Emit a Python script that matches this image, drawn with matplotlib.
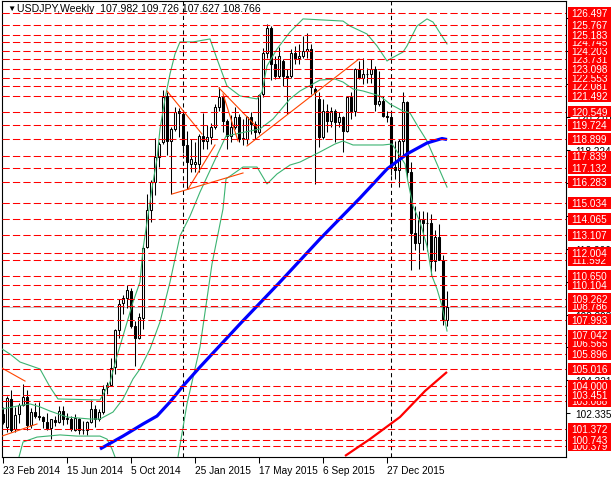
import matplotlib.pyplot as plt
import numpy as np
from matplotlib.patches import Rectangle
from matplotlib.transforms import blended_transform_factory

# USDJPY semanal, una vela por semana desde el 23 Feb 2014
opens = [102.28, 101.50, 103.20, 101.40, 102.30, 102.85, 103.30, 101.60, 102.40, 102.15,
         102.10, 101.80, 101.45, 101.95, 101.80, 102.50, 102.00, 102.00, 101.35, 102.00,
         101.30, 101.30, 101.80, 102.60, 102.00, 102.40, 103.90, 104.05, 105.10, 107.35,
         109.00, 109.30, 109.70, 107.60, 106.90, 108.10, 112.40, 114.60, 116.30, 117.80,
         118.70, 121.50, 118.80, 119.50, 120.60, 120.40, 118.50, 117.40, 117.40, 117.40,
         119.10, 118.80, 119.00, 119.60, 120.80, 121.40, 120.00, 119.10, 119.60, 120.20,
         118.90, 118.90, 120.20, 119.80, 119.30, 121.60, 124.10, 125.60, 123.40, 122.70,
         123.60, 122.70, 122.70, 124.10, 123.80, 123.90, 124.20, 124.30, 121.90, 121.30,
         119.00, 120.60, 120.00, 120.60, 119.90, 120.20, 119.40, 121.40, 120.60, 123.10,
         122.60, 122.80, 122.80, 123.10, 121.00, 121.20, 120.30, 120.20, 117.20, 117.00,
         118.80, 121.10, 116.90, 113.20, 112.60, 114.00, 113.80, 113.80, 111.50, 113.00,
         111.60, 107.98]
highs = [102.71, 103.37, 103.77, 102.71, 102.95, 104.13, 103.75, 102.63, 102.96, 103.02,
         102.15, 102.35, 102.00, 102.20, 102.80, 102.75, 102.38, 102.15, 102.28, 102.08,
         101.85, 101.90, 103.15, 102.85, 102.60, 104.05, 104.20, 105.70, 107.40, 109.24,
         109.45, 110.09, 109.90, 107.90, 108.39, 112.47, 115.59, 116.40, 118.98, 118.70,
         121.85, 121.70, 119.60, 120.80, 120.75, 120.65, 119.40, 118.90, 118.70, 119.20,
         120.47, 119.73, 119.88, 121.00, 122.03, 121.50, 120.10, 120.37, 120.80, 120.40,
         120.10, 120.25, 120.50, 120.00, 121.60, 124.40, 125.86, 125.70, 123.90, 124.45,
         123.70, 123.10, 124.30, 124.50, 124.60, 125.10, 125.30, 124.60, 122.00, 121.70,
         121.30, 121.00, 120.80, 120.70, 120.50, 120.30, 121.50, 121.75, 123.20, 123.60,
         123.80, 123.20, 123.70, 123.30, 123.00, 121.50, 120.60, 120.40, 118.80, 118.90,
         121.70, 121.20, 117.50, 114.87, 114.55, 114.55, 114.48, 114.36, 113.40, 113.76,
         111.90, 109.73]
lows = [101.70, 101.20, 101.20, 101.22, 101.73, 102.75, 101.32, 101.43, 102.05, 101.92,
        101.43, 101.32, 100.81, 101.55, 101.75, 101.60, 101.70, 101.25, 101.24, 101.07,
        101.06, 101.00, 101.75, 101.50, 101.90, 102.30, 103.50, 104.00, 104.70, 106.90,
        108.30, 108.70, 107.50, 105.20, 106.80, 107.40, 112.30, 113.86, 115.50, 117.20,
        118.60, 117.90, 115.57, 119.40, 119.00, 118.06, 115.85, 116.90, 116.90, 116.90,
        118.30, 118.30, 118.60, 119.50, 120.60, 119.30, 118.30, 118.70, 119.50, 118.70,
        118.50, 118.60, 119.20, 118.88, 119.20, 121.40, 123.80, 122.45, 122.50, 122.60,
        122.10, 120.40, 122.60, 123.40, 123.40, 123.80, 123.80, 121.60, 116.15, 118.40,
        118.90, 119.30, 119.60, 118.70, 119.60, 118.10, 119.30, 120.10, 120.30, 122.50,
        122.20, 122.30, 122.30, 120.60, 120.90, 120.20, 119.90, 116.70, 116.50, 115.97,
        117.90, 116.50, 110.99, 112.20, 111.05, 112.20, 112.13, 110.70, 110.90, 111.60,
        107.67, 107.63]
closes = [101.79, 103.28, 101.33, 102.24, 102.82, 103.29, 101.61, 102.42, 102.16, 102.14,
          101.84, 101.45, 101.97, 101.78, 102.45, 102.00, 102.04, 101.37, 102.05, 101.32,
          101.33, 101.81, 102.58, 102.02, 102.40, 103.82, 104.07, 105.08, 107.34, 108.96,
          109.27, 109.76, 107.60, 106.89, 108.13, 112.30, 114.60, 116.30, 117.80, 118.60,
          121.45, 118.78, 119.50, 120.50, 120.45, 118.50, 117.50, 117.70, 117.50, 119.10,
          118.80, 119.00, 119.60, 120.80, 121.40, 120.00, 119.10, 119.60, 120.20, 118.90,
          118.90, 120.20, 119.80, 119.30, 121.55, 124.10, 125.60, 123.40, 122.70, 123.90,
          122.70, 122.60, 124.10, 123.80, 123.90, 124.20, 124.30, 122.00, 121.70, 119.00,
          120.60, 120.00, 120.60, 119.90, 120.20, 119.40, 121.40, 120.60, 123.10, 122.60,
          122.80, 122.80, 123.10, 121.00, 121.20, 120.30, 120.20, 117.20, 117.00, 118.80,
          121.10, 116.90, 113.20, 112.60, 114.00, 113.80, 113.80, 111.55, 113.00, 111.60,
          108.05, 108.77]

# etiquetas de fecha (indice de vela)
date_idx = [0, 16, 32, 48, 64, 80, 96]
date_labels = ['23 Feb 2014', '15 Jun 2014', '5 Oct 2014', '25 Jan 2015',
               '17 May 2015', '6 Sep 2015', '27 Dec 2015']
separators = [45, 97]

# medias moviles (indice, precio)
blue_idx = [24.25, 30, 35, 38.5, 41.75, 45, 49.25, 59.25, 69.25, 79.25, 89.25, 96, 101, 106, 109.75, 111]
blue_val = [100.18, 100.96, 101.69, 102.17, 103.02, 103.98, 105.13, 107.73, 110.26, 112.86,
            115.33, 117.08, 117.99, 118.65, 118.92, 118.86]
red_idx = [85.5, 91.75, 99.25, 105.5, 111]
red_val = [99.76, 100.78, 102.11, 103.68, 104.83]

# bandas de Bollinger
up_idx = [-0.25, 1.75, 4.25, 9.25, 11.75, 13.75, 24.25, 26.75, 28.5, 30, 32.5, 34.25, 35, 36.75,
          37.5, 38.5, 39.25, 40.5, 41.75, 43, 44.25, 47.5, 51.75, 53.5, 56, 59.25, 63.5, 64.75,
          66, 68.5, 71.75, 75, 85, 86.75, 91, 93.5, 96, 96.75, 100, 101, 103.5, 106, 107.5, 111]
up_val = [106.22, 105.91, 105.43, 105.01, 103.92, 103.20, 103.14, 104.22, 105.79, 107.00, 109.05,
          110.26, 112.25, 115.09, 116.30, 117.68, 119.50, 121.31, 122.82, 124.02, 124.75, 124.75,
          124.93, 123.72, 122.09, 121.49, 121.31, 121.73, 123.30, 124.32, 125.35, 126.14, 126.01,
          125.71, 125.23, 124.51, 123.60, 123.72, 124.14, 124.51, 125.71, 126.14, 125.95, 124.63]
mid_idx = [-0.25, 3.75, 6.75, 9.25, 11.75, 16, 21.75, 24.25, 27.5, 30, 32.5, 34.25, 36.75, 39.25,
           41.75, 44.25, 46.75, 49.25, 55.75, 64.25, 67.5, 71.75, 74.25, 79.25, 83, 85, 87.5, 90,
           94.25, 96.75, 100, 101.75, 103.5, 106, 108.5, 111]
mid_val = [102.59, 102.78, 102.90, 102.72, 102.47, 102.11, 101.99, 101.99, 102.41, 103.20, 104.41,
           105.01, 106.22, 107.85, 110.26, 113.04, 114.24, 115.69, 119.07, 119.50, 120.10, 121.31,
           121.79, 122.45, 122.51, 122.33, 121.91, 121.79, 121.49, 121.00, 120.58, 120.46, 119.74,
           118.77, 117.38, 115.99]
low1_idx = [4, 5, 8.5, 14.25, 18.5, 24.25, 26, 27.25, 28]
low1_val = [99.70, 100.60, 100.90, 101.03, 100.96, 100.96, 100.78, 100.18, 99.70]
low2_idx = [43.75, 46, 49.25, 52.25, 55, 55.75, 60, 63.5, 66, 68.5, 71.75, 74.25, 79.25, 83, 85,
            87.5, 95, 97.25, 99.25, 100.5, 101.25, 102.5, 104.25, 106, 107.25, 108.5, 109.75, 111]
low2_val = [99.70, 102.90, 106.34, 111.35, 114.67, 116.48, 117.20, 117.20, 116.18, 116.78, 117.32,
            117.50, 118.11, 118.59, 118.77, 118.53, 118.53, 118.59, 117.87, 117.38, 116.30, 114.85,
            113.88, 112.43, 110.62, 109.84, 108.81, 107.30]

# lineas de tendencia (inicio, fin)
trend_lines = [((-0.75, 105.13), (5.5, 104.28)),
               ((-0.25, 100.96), (8.5, 101.69)),
               ((41, 121.79), (49.75, 119.19)),
               ((42.25, 115.57), (60, 116.84)),
               ((46.25, 115.87), (53, 118.53)),
               ((54, 121.97), (63.5, 119.61)),
               ((55, 121.61), (58.75, 118.77)),
               ((61, 118.47), (89, 123.72))]

# niveles horizontales con etiqueta roja
levels = [100.379, 100.743, 101.372, 103.088, 103.451, 104.000, 105.016, 105.896, 106.565,
          107.042, 107.993, 108.786, 109.262, 110.104, 110.650, 111.592, 112.004, 113.107,
          114.065, 115.034, 116.283, 117.132, 117.839, 118.899, 119.724, 120.549, 121.492,
          122.081, 122.553, 123.098, 123.731, 124.203, 124.745, 125.183, 125.767, 126.497]
price_ticks = [102.335, 104.321, 106.307, 108.293, 110.280, 112.266, 114.252, 116.238,
               118.224, 120.210, 122.196, 124.182, 126.168]
bid = 108.766

W, H = 611, 481
font = 'Liberation Sans'
fig = plt.figure(figsize=(W / 100, H / 100), dpi=100)
ax = fig.add_axes([2 / W, 1 - 458 / H, 564 / W, 456 / H])
ax.set_xlim(-0.25, 140.75)
ax.set_ylim(99.697, 127.221)

o = np.array(opens); h = np.array(highs); l = np.array(lows); c = np.array(closes)
idx = np.arange(len(c))
up = c >= o

ax.axhline(bid, color='#c0c0c0', lw=0.75, zorder=1)
for s in separators:
    ax.axvline(s, color='black', lw=0.75, ls=(0, (4, 3)), zorder=1)

# velas
ax.vlines(idx, l, h, color='black', lw=0.75, zorder=3)
body = np.maximum(np.abs(c - o), 0.03)
ax.bar(idx[up], body[up], bottom=np.minimum(o, c)[up], width=0.5, facecolor='white',
       edgecolor='black', lw=0.75, zorder=4)
ax.bar(idx[~up], body[~up], bottom=np.minimum(o, c)[~up], width=0.5, facecolor='black',
       edgecolor='black', lw=0.75, zorder=4)

# indicadores
green = '#3cb371'
for xs, ys in [(up_idx, up_val), (mid_idx, mid_val), (low1_idx, low1_val), (low2_idx, low2_val)]:
    ax.plot(xs, ys, color=green, lw=0.8, zorder=5)
ax.plot(blue_idx, blue_val, color='#0000ff', lw=2.3, zorder=6, solid_capstyle='butt')
ax.plot(red_idx, red_val, color='#ff0000', lw=1.6, zorder=6, solid_capstyle='butt')
for (x0, y0), (x1, y1) in trend_lines:
    ax.plot([x0, x1], [y0, y1], color='#ff4500', lw=0.8, zorder=6)

for lv in levels:
    ax.axhline(lv, color='red', lw=0.75, ls=(0, (7, 3)), zorder=7)

# ejes estilo MT4
for side in ['top', 'bottom', 'left', 'right']:
    ax.spines[side].set_linewidth(0.8)
ax.set_xticks(date_idx)
ax.set_xticklabels(date_labels, ha='left', fontsize=7.3, family=font)
ax.tick_params(axis='x', length=4, width=0.75, pad=2)
ax.yaxis.tick_right()
ax.set_yticks(price_ticks)
ax.set_yticklabels([f'{p:.3f}' for p in price_ticks], fontsize=7.2, family=font)
ax.tick_params(axis='y', length=3, width=0.75, pad=4)

trans = blended_transform_factory(ax.transAxes, ax.transData)
box_h = 11.5 / 16.567
for i, lv in enumerate(levels):
    ax.add_patch(Rectangle((1 + 2 / 564, lv - box_h / 2), 50 / 564, box_h, transform=trans,
                           facecolor='red', edgecolor='none', clip_on=False, zorder=10 + i * 0.01))
    ax.text(1 + 5 / 564, lv, f'{lv:.3f}', transform=trans, color='white', fontsize=7.2,
            family=font, va='center', ha='left', clip_on=False, zorder=10.005 + i * 0.01)

fig.text(7 / W, 1 - 9.5 / H, '\u25bc', fontsize=6, va='center', ha='left',
         family=[font, 'DejaVu Sans'])
fig.text(17 / W, 1 - 9.5 / H, 'USDJPY,Weekly  107.982 109.726 107.627 108.766',
         fontsize=7.6, va='center', ha='left', family=font)

fig.savefig('out.png', dpi=100)
